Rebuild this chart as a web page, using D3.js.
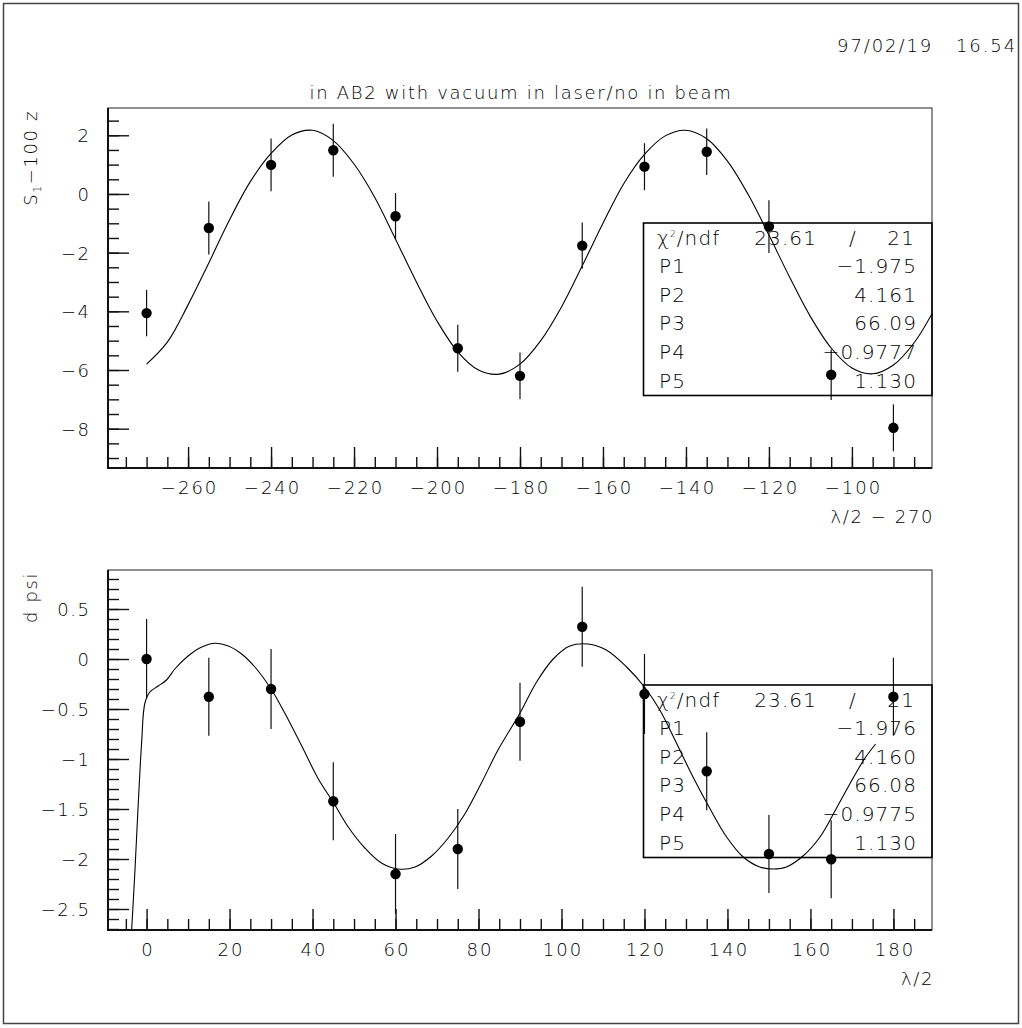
<!DOCTYPE html>
<html>
<head>
<meta charset="utf-8">
<script src="https://cdn.jsdelivr.net/npm/d3@7"></script>
<style>
body { margin: 0; background: #fff; }
svg text { font-family: "DejaVu Sans ExtraLight", "DejaVu Sans", sans-serif; font-weight: 200; fill: #000; }
</style>
</head>
<body>
<svg id="chart" width="1022" height="1028"></svg>
<script>
// ---- data ----
var topX   = [-270, -255, -240, -225, -210, -195, -180, -165, -150, -135, -120, -105, -90];
var topY   = [-4.06, -1.16, 0.99, 1.49, -0.76, -5.26, -6.20, -1.76, 0.93, 1.44, -1.11, -6.16, -7.97];
var topErr = [0.79, 0.90, 0.90, 0.90, 0.79, 0.80, 0.80, 0.79, 0.80, 0.79, 0.90, 0.86, 0.80];

var topFitX = [-270, -265, -260, -255, -250, -245, -240, -235, -230, -225, -220, -215, -210, -205, -200,
  -195, -190, -185, -180, -175, -170, -165, -160, -155, -150, -145, -140, -135, -130, -125, -120,
  -115, -110, -105, -100, -95, -90, -85, -80.7];
var topFitY = [-5.80, -5.05, -3.78, -2.35, -0.88, 0.42, 1.38, 2.01, 2.17, 1.82, 1.02, -0.12, -1.54, -2.99, -4.33,
  -5.38, -6.00, -6.14, -5.80, -5.00, -3.85, -2.45, -1.00, 0.35, 1.35, 1.98, 2.17, 1.88, 1.12, -0.02, -1.40,
  -2.84, -4.18, -5.25, -5.93, -6.13, -5.83, -5.07, -4.08];

var botX   = [0, 15, 30, 45, 60, 75, 90, 105, 120, 135, 150, 165, 180];
var botY   = [0.00, -0.377, -0.30, -1.423, -2.15, -1.90, -0.627, 0.323, -0.35, -1.123, -1.95, -2.003, -0.377];
var botErr = [0.40, 0.39, 0.40, 0.39, 0.40, 0.40, 0.39, 0.40, 0.40, 0.39, 0.39, 0.39, 0.39];

var botFitX = [-3.6, -2.8, -2.0, -1.2, -0.4, 0.8, 2.8, 4.8, 6.8, 10.0, 13.3, 16.5, 19.7, 22.9, 26.1, 30.0,
  33.3, 37.4, 41.4, 45.1, 48.6, 52.6, 56.6, 60.6, 64.7, 68.7, 72.7, 76.7, 80.7, 84.7, 90.0, 94.0, 98.0,
  102.0, 106.4, 110.8, 115.7, 120.0, 123.7, 127.7, 131.7, 135.7, 139.8, 143.8, 147.8, 151.0, 154.2,
  158.2, 162.3, 166.3, 170.3, 173.0, 175.7];
var botFitY = [-2.71, -2.11, -1.44, -0.84, -0.44, -0.33, -0.27, -0.21, -0.10, 0.03, 0.12, 0.157, 0.13, 0.05, -0.08, -0.30,
  -0.54, -0.87, -1.20, -1.44, -1.68, -1.89, -2.04, -2.10, -2.08, -1.97, -1.79, -1.55, -1.24, -0.91, -0.54, -0.23, 0.00,
  0.13, 0.15, 0.09, -0.08, -0.28, -0.51, -0.84, -1.18, -1.49, -1.78, -1.98, -2.08, -2.10, -2.08,
  -1.97, -1.78, -1.49, -1.19, -1.00, -0.85];

var statNames = ["P1", "P2", "P3", "P4", "P5"];
var topStats  = ["\u22121.975", "4.161", "66.09", "\u22120.9777", "1.130"];
var botStats  = ["\u22121.976", "4.160", "66.08", "\u22120.9775", "1.130"];
var topChi = ["23.61", "21"], botChi = ["23.61", "21"];

var topXTicks = [-260, -240, -220, -200, -180, -160, -140, -120, -100];
var topYTicks = [-8, -6, -4, -2, 0, 2];
var botXTicks = [0, 20, 40, 60, 80, 100, 120, 140, 160, 180];
var botYTicks = [-2.5, -2, -1.5, -1, -0.5, 0, 0.5];

// ---- layout ----
var svg = d3.select("#chart");
var left = 108, right = 932;
var fmt = d3.format("");

svg.append("rect")
  .attr("x", 3.5).attr("y", 3.5).attr("width", 1015).attr("height", 1020)
  .attr("fill", "none").attr("stroke", "#444").attr("stroke-width", 1.5);

svg.append("text")
  .attr("x", 1017).attr("y", 52)
  .attr("text-anchor", "end")
  .style("font-size", "18px").style("letter-spacing", "1.9px").style("white-space", "pre")
  .text("97/02/19   16.54");

svg.append("text")
  .attr("x", 521).attr("y", 99)
  .attr("text-anchor", "middle")
  .style("font-size", "18px").style("letter-spacing", "1.7px")
  .text("in AB2 with vacuum in laser/no in beam");

function drawPanel(o) {
  var x = d3.scaleLinear().domain(o.xDomain).range([left, right]);
  var y = d3.scaleLinear().domain(o.yDomain).range([o.bottom, o.top]);
  var g = svg.append("g");

  g.append("clipPath").attr("id", o.id + "-clip")
    .append("rect").attr("x", left).attr("y", o.top)
    .attr("width", right - left).attr("height", o.bottom - o.top);

  // minor then major ticks, pointing into the frame
  var xAxisMinor = d3.axisBottom(x).tickValues(o.xMinor).tickSize(-11).tickFormat("");
  var xAxisMajor = d3.axisBottom(x).tickValues(o.xTicks).tickSize(-21).tickFormat(fmt);
  var yAxisMinor = d3.axisLeft(y).tickValues(o.yMinor).tickSize(-11).tickFormat("");
  var yAxisMajor = d3.axisLeft(y).tickValues(o.yTicks).tickSize(-21).tickPadding(19).tickFormat(fmt);

  var gx = [xAxisMinor, xAxisMajor].map(function (ax) {
    return g.append("g").attr("transform", "translate(0," + o.bottom + ")").call(ax)
      .call(function (s) { s.select(".domain").remove(); });
  });
  var gy = [yAxisMinor, yAxisMajor].map(function (ax) {
    return g.append("g").attr("transform", "translate(" + left + ",0)").call(ax)
      .call(function (s) { s.select(".domain").remove(); });
  });
  g.selectAll(".tick line").attr("stroke", "#111").attr("stroke-width", 1.4);
  g.selectAll(".tick text")
    .attr("fill", "#000").attr("font-family", null).attr("font-size", null)
    .style("font-size", "18px");
  gx[1].selectAll(".tick text").attr("y", 26).attr("dy", null).attr("dx", 1)
    .style("letter-spacing", "2px");
  gy[1].selectAll(".tick text").attr("dy", "0.36em").attr("dx", 1.5)
    .style("letter-spacing", "1.5px");

  // frame
  g.append("rect")
    .attr("x", left).attr("y", o.top).attr("width", right - left).attr("height", o.bottom - o.top)
    .attr("fill", "none").attr("stroke", "#222").attr("stroke-width", 1);
  g.append("path")
    .attr("d", "M" + left + "," + o.top + "V" + o.bottom + "H" + right)
    .attr("fill", "none").attr("stroke", "#111").attr("stroke-width", 2);

  // fit curve
  var fit = o.fitX.map(function (v, i) { return [v, o.fitY[i]]; });
  g.append("path")
    .datum(fit)
    .attr("clip-path", "url(#" + o.id + "-clip)")
    .attr("fill", "none").attr("stroke", "#000").attr("stroke-width", 1.1)
    .attr("d", d3.line()
      .x(function (d) { return x(d[0]); })
      .y(function (d) { return y(d[1]); })
      .curve(d3.curveCatmullRom.alpha(0.5)));

  // points with error bars
  var pts = o.px.map(function (v, i) { return { x: v, y: o.py[i], e: o.pe[i] }; });
  var pg = g.append("g").attr("clip-path", "url(#" + o.id + "-clip)");
  pg.selectAll("line.err").data(pts).enter().append("line")
    .attr("class", "err")
    .attr("x1", function (d) { return x(d.x); }).attr("x2", function (d) { return x(d.x); })
    .attr("y1", function (d) { return y(d.y - d.e); }).attr("y2", function (d) { return y(d.y + d.e); })
    .attr("stroke", "#111").attr("stroke-width", 1.2);
  pg.selectAll("circle").data(pts).enter().append("circle")
    .attr("cx", function (d) { return x(d.x); })
    .attr("cy", function (d) { return y(d.y); })
    .attr("r", 5.2).attr("fill", "#000");

  // stats box
  var bx = 643.5, by = o.top + 115, rowH = 28.65;
  g.append("rect")
    .attr("x", bx).attr("y", by).attr("width", right - bx).attr("height", 172.5)
    .attr("fill", "none").attr("stroke", "#000").attr("stroke-width", 1.6);
  var sg = g.append("g").style("font-size", "20px").style("letter-spacing", "1.1px");
  var chi = sg.append("text").attr("x", 657).attr("y", by + 21.5);
  chi.append("tspan").text("\u03c7");
  chi.append("tspan").attr("dy", -8).style("font-size", "9px").text("2");
  chi.append("tspan").attr("dy", 8).text("/ndf");
  sg.append("text").attr("x", 817).attr("y", by + 21.5).attr("text-anchor", "end").text(o.chi[0]);
  sg.append("text").attr("x", 853).attr("y", by + 21.5).attr("text-anchor", "middle").text("/");
  sg.append("text").attr("x", 915).attr("y", by + 21.5).attr("text-anchor", "end").text(o.chi[1]);
  statNames.forEach(function (n, i) {
    sg.append("text").attr("x", 659).attr("y", by + 21.5 + (i + 1) * rowH).text(n);
    sg.append("text").attr("x", 917).attr("y", by + 21.5 + (i + 1) * rowH)
      .attr("text-anchor", "end").text(o.stats[i]);
  });

  // axis titles
  g.append("text")
    .attr("x", 934).attr("y", o.bottom + 55)
    .attr("text-anchor", "end")
    .style("font-size", "18px").style("letter-spacing", "1.6px")
    .text(o.xTitle);
  var yt = g.append("text")
    .attr("transform", "translate(37," + (o.top + 2) + ") rotate(-90)")
    .attr("text-anchor", "end")
    .style("font-size", "18px").style("letter-spacing", "1.6px");
  o.yTitle.forEach(function (part) {
    var t = yt.append("tspan").text(part.t);
    if (part.sub) t.style("font-size", "11px").attr("dy", 4);
    if (part.back) t.attr("dy", -4);
  });
}

drawPanel({
  id: "top", top: 108, bottom: 468,
  xDomain: [-279.3, -80.7], yDomain: [-9.34, 2.93],
  xTicks: topXTicks, xMinor: d3.range(-55, -16).map(function (i) { return i * 5; }),
  yTicks: topYTicks, yMinor: d3.range(-18, 6).map(function (i) { return i / 2; }),
  fitX: topFitX, fitY: topFitY, px: topX, py: topY, pe: topErr,
  chi: topChi, stats: topStats,
  xTitle: "\u03bb/2 \u2212 270",
  yTitle: [{ t: "S" }, { t: "1", sub: true }, { t: "\u2212100 z", back: true }]
});

drawPanel({
  id: "bot", top: 570, bottom: 930,
  xDomain: [-9.3, 189.3], yDomain: [-2.71, 0.89],
  xTicks: botXTicks, xMinor: d3.range(-1, 38).map(function (i) { return i * 5; }),
  yTicks: botYTicks, yMinor: d3.range(-27, 9).map(function (i) { return i / 10; }),
  fitX: botFitX, fitY: botFitY, px: botX, py: botY, pe: botErr,
  chi: botChi, stats: botStats,
  xTitle: "\u03bb/2",
  yTitle: [{ t: "d psi" }]
});
</script>
</body>
</html>
